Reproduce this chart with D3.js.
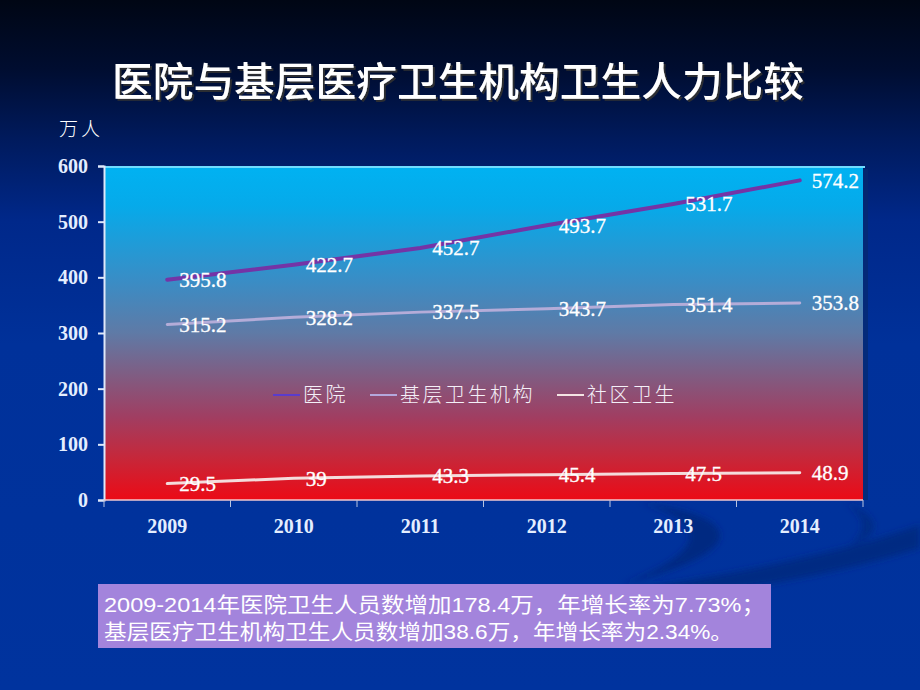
<!DOCTYPE html>
<html><head><meta charset="utf-8">
<script src="https://cdn.jsdelivr.net/npm/d3@7/dist/d3.min.js"></script>
<style>html,body{margin:0;padding:0;background:#00309a;}svg{display:block;}</style>
</head><body>
<svg id="c" width="920" height="690"></svg>
<script>
const years = ["2009","2010","2011","2012","2013","2014"];
const hospital = [395.8,422.7,452.7,493.7,531.7,574.2];
const primary = [315.2,328.2,337.5,343.7,351.4,353.8];
const community = [29.5,39,43.3,45.4,47.5,48.9];
const labelsHospital = ["395.8","422.7","452.7","493.7","531.7","574.2"];
const labelsPrimary = ["315.2","328.2","337.5","343.7","351.4","353.8"];
const labelsCommunity = ["29.5","39","43.3","45.4","47.5","48.9"];
const seriesNames = ["医院","基层卫生机构","社区卫生"];
const yTicks = [0,100,200,300,400,500,600];
const titleText = "医院与基层医疗卫生机构卫生人力比较";
const unitText = "万人";
const noteLines = ["2009-2014年医院卫生人员数增加178.4万，年增长率为7.73%；",
                   "基层医疗卫生机构卫生人员数增加38.6万，年增长率为2.34%。"];

const svg = d3.select("#c");
const defs = svg.append("defs");
const bg = defs.append("linearGradient").attr("id","bg").attr("x1",0).attr("y1",0).attr("x2",0).attr("y2",1);
[[0,"#000614"],[0.1,"#000d30"],[0.2,"#001a5c"],[0.32,"#00288a"],[0.5,"#00319a"],[1,"#00339e"]].forEach(s=>bg.append("stop").attr("offset",s[0]).attr("stop-color",s[1]));
const pg = defs.append("linearGradient").attr("id","pg").attr("x1",0).attr("y1",0).attr("x2",0).attr("y2",1);
[[0,"#00b2f2"],[0.12,"#06aaea"],[0.35,"#3b8cc4"],[0.5,"#5f7aa6"],[0.62,"#7e5e84"],[0.75,"#a03e62"],[0.88,"#c82638"],[1,"#ec0a16"]].forEach(s=>pg.append("stop").attr("offset",s[0]).attr("stop-color",s[1]));
const f = defs.append("filter").attr("id","ts").attr("x","-5%").attr("y","-20%").attr("width","110%").attr("height","140%");
f.append("feDropShadow").attr("dx",2).attr("dy",2).attr("stdDeviation",0.6).attr("flood-color","#303030").attr("flood-opacity",0.9);
const bl = defs.append("filter").attr("id","bl");
bl.append("feGaussianBlur").attr("stdDeviation",3);

svg.append("rect").attr("width",920).attr("height",690).attr("fill","url(#bg)");
// decorative swirls (subtle)
const sw = svg.append("g").attr("filter","url(#bl)");
sw.append("path").attr("d","M 540 600 C 680 585, 820 560, 920 525 L 920 548 C 820 580, 690 600, 560 606 Z").attr("fill","#00257a").attr("opacity",0.75);
sw.append("path").attr("d","M 640 503 C 740 515, 760 550, 620 585 C 715 550, 705 520, 640 503 Z").attr("fill","#00247a").attr("opacity",0.8);
sw.append("path").attr("d","M 845 503 C 880 515, 885 535, 850 545 C 868 532, 866 515, 845 503 Z").attr("fill","#00287e").attr("opacity",0.7);

const x0 = 104, x1 = 863, yTop = 166, yBot = 500;
const x = d3.scaleBand().domain(years).range([x0,x1]);
const y = d3.scaleLinear().domain([0,600]).range([yBot,yTop]);
const cx = d => x(d) + x.bandwidth()/2;

// plot area
svg.append("rect").attr("x",x1).attr("y",yTop+3).attr("width",5).attr("height",yBot-yTop-3).attr("fill","#062a6e").attr("opacity",0.7);
svg.append("rect").attr("x",x0).attr("y",yTop).attr("width",x1-x0).attr("height",yBot-yTop).attr("fill","url(#pg)");
svg.append("line").attr("x1",x0).attr("x2",x1+2).attr("y1",yTop+1).attr("y2",yTop+1).attr("stroke","#70dcff").attr("stroke-width",2);

// axes
const ya = svg.append("g").attr("transform",`translate(${x0},0)`).call(d3.axisLeft(y).tickValues(yTicks).tickSize(6).tickPadding(10));
ya.select(".domain").attr("stroke","#dfe8fa").attr("stroke-width",2);
ya.selectAll(".tick line").attr("stroke","#dfe8fa").attr("stroke-width",2);
ya.selectAll(".tick text").attr("fill","#e4eeff").style("font-family","'Liberation Serif',serif").style("font-size","20px").style("font-weight","bold");

const xa = svg.append("g").attr("transform",`translate(0,${yBot})`).call(d3.axisBottom(x).tickSize(0).tickPadding(19));
xa.select(".domain").remove();
svg.append("line").attr("x1",x0).attr("x2",x1).attr("y1",yBot).attr("y2",yBot).attr("stroke","#f0c8d0").attr("stroke-width",1.5);
svg.selectAll(".xt").data(years.concat(["end"])).enter().append("line")
  .attr("x1",(d,i)=>x0+i*x.bandwidth()).attr("x2",(d,i)=>x0+i*x.bandwidth())
  .attr("y1",yBot).attr("y2",yBot+7).attr("stroke","#b8c4e0").attr("stroke-width",1);
xa.selectAll(".tick text").attr("fill","#e4eeff").style("font-family","'Liberation Serif',serif").style("font-size","20px").style("font-weight","bold");

// lines
const line = d3.line().x((d,i)=>cx(years[i])).y(d=>y(d));
const series = [
  {vals:hospital, labels:labelsHospital, color:"#7434a6", w:4, leg:"#5a3ccc"},
  {vals:primary, labels:labelsPrimary, color:"#b4acd8", w:3, leg:"#b4a8dc"},
  {vals:community, labels:labelsCommunity, color:"#f4dcdc", w:3, leg:"#f4e4e4"}
];
series.forEach(s=>{
  svg.append("path").datum(s.vals).attr("d",line).attr("fill","none").attr("stroke",s.color).attr("stroke-width",s.w).attr("stroke-linecap","round");
});
series.forEach(s=>{
  svg.append("g").selectAll("text").data(s.vals).enter().append("text")
    .attr("x",(d,i)=>cx(years[i])+12).attr("y",d=>y(d)).attr("dy","0.35em")
    .attr("fill","#ffffff").attr("stroke","#ffffff").attr("stroke-width",0.3)
    .style("font-family","'Liberation Serif',serif").style("font-size","21px")
    .text((d,i)=>s.labels[i]);
});

// legend
const legX = [273,370,557];
const lg = svg.append("g");
series.forEach((s,i)=>{
  lg.append("line").attr("x1",legX[i]).attr("x2",legX[i]+27).attr("y1",395).attr("y2",395).attr("stroke",s.leg).attr("stroke-width",2);
  lg.append("text").attr("x",legX[i]+30).attr("y",402).attr("fill","#f4f0f8")
    .style("font-family","'Noto Sans CJK SC',sans-serif").style("font-size","20px").style("letter-spacing","2.5px").style("font-weight","300")
    .text(seriesNames[i]);
});

// title
svg.append("text").attr("x",458).attr("y",96).attr("text-anchor","middle").attr("fill","#ffffff").attr("filter","url(#ts)")
  .style("font-family","'Noto Sans CJK SC',sans-serif").style("font-size","40px").style("font-weight","500")
  .attr("textLength",692).attr("lengthAdjust","spacingAndGlyphs").text(titleText);
svg.append("text").attr("x",59).attr("y",136).attr("fill","#ffffff")
  .style("font-family","'Noto Sans CJK SC',sans-serif").style("font-size","19px").style("font-weight","300").style("letter-spacing","3px").text(unitText);

// note box
svg.append("rect").attr("x",98).attr("y",584).attr("width",673).attr("height",64).attr("fill","#a384dc");
const noteLen = [661,629];
noteLines.forEach((t,i)=>{
  svg.append("text").attr("x",104).attr("y",612+i*27).attr("fill","#ffffff")
    .style("font-family","'Liberation Sans','Noto Sans CJK SC',sans-serif").style("font-size","21px")
    .attr("textLength",noteLen[i]).attr("lengthAdjust","spacingAndGlyphs").text(t);
});
</script>
</body></html>
